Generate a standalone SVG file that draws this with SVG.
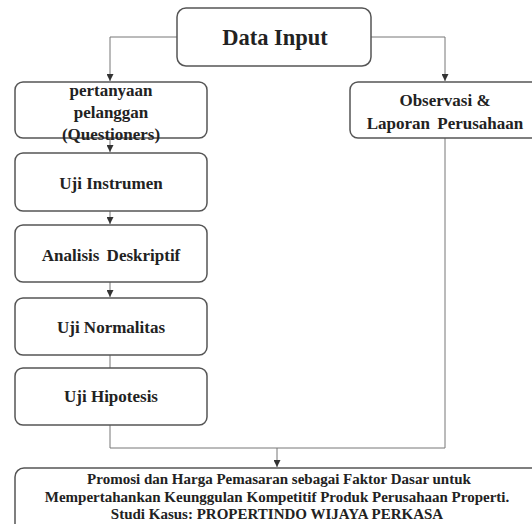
<svg xmlns="http://www.w3.org/2000/svg" width="532" height="524" viewBox="0 0 532 524">
<defs>
<marker id="arr" viewBox="0 0 10 10" refX="10" refY="5" markerWidth="7" markerHeight="7" orient="auto" markerUnits="userSpaceOnUse">
<path d="M0,0 L10,5 L0,10 z" fill="#333"/>
</marker>
<style>
.box{fill:#fff;stroke:#555;stroke-width:1.5}
.t{font-family:"Liberation Serif","Times New Roman",serif;font-weight:bold;fill:#222;text-anchor:middle}
.c{fill:none;stroke:#777;stroke-width:1}
</style>
</defs>
<rect width="532" height="524" fill="#fff"/>
<g id="connectors">
<path class="c" d="M177,37 H110 V81" marker-end="url(#arr)"/>
<path class="c" d="M371,37 H445 V81" marker-end="url(#arr)"/>
<path class="c" d="M110,138 V152" marker-end="url(#arr)"/>
<path class="c" d="M110,211 V224" marker-end="url(#arr)"/>
<path class="c" d="M110,282 V297" marker-end="url(#arr)"/>
<path class="c" d="M110,355 V368"/>
<path class="c" d="M110,425 V448 H445 V138"/>
<path class="c" d="M277,448 V467" marker-end="url(#arr)"/>
</g>
<g id="data-input">
<rect class="box" x="177" y="8" width="194" height="58" rx="9"/>
<text class="t" x="275" y="45" font-size="22.5">Data Input</text>
</g>
<g id="pertanyaan">
<rect class="box" x="15" y="82" width="192" height="56" rx="8"/>
<text class="t" x="111" y="96" font-size="17">pertanyaan</text>
<text class="t" x="111" y="118" font-size="17">pelanggan</text>
<text class="t" x="111" y="140" font-size="17">(Questioners)</text>
</g>
<g id="observasi">
<rect class="box" x="350" y="82" width="200" height="56" rx="8"/>
<text class="t" x="445" y="106" font-size="17">Observasi &amp;</text>
<text class="t" x="445" y="129" font-size="17" word-spacing="3">Laporan Perusahaan</text>
</g>
<g id="uji-instrumen">
<rect class="box" x="15" y="153" width="192" height="58" rx="8"/>
<text class="t" x="111" y="189" font-size="17">Uji Instrumen</text>
</g>
<g id="analisis">
<rect class="box" x="15" y="225" width="192" height="57" rx="8"/>
<text class="t" x="111" y="261" font-size="17" word-spacing="3">Analisis Deskriptif</text>
</g>
<g id="normalitas">
<rect class="box" x="15" y="298" width="192" height="57" rx="8"/>
<text class="t" x="111" y="333" font-size="17">Uji Normalitas</text>
</g>
<g id="hipotesis">
<rect class="box" x="15" y="368" width="192" height="57" rx="8"/>
<text class="t" x="111" y="402" font-size="17">Uji Hipotesis</text>
</g>
<g id="promosi">
<rect class="box" x="15" y="468" width="530" height="70" rx="9"/>
<text class="t" x="279" y="484" font-size="15">Promosi dan Harga  Pemasaran sebagai Faktor Dasar untuk</text>
<text class="t" x="277" y="502" font-size="15">Mempertahankan Keunggulan Kompetitif Produk Perusahaan Properti.</text>
<text class="t" x="277" y="519" font-size="15">Studi Kasus: PROPERTINDO WIJAYA PERKASA</text>
</g>
</svg>
